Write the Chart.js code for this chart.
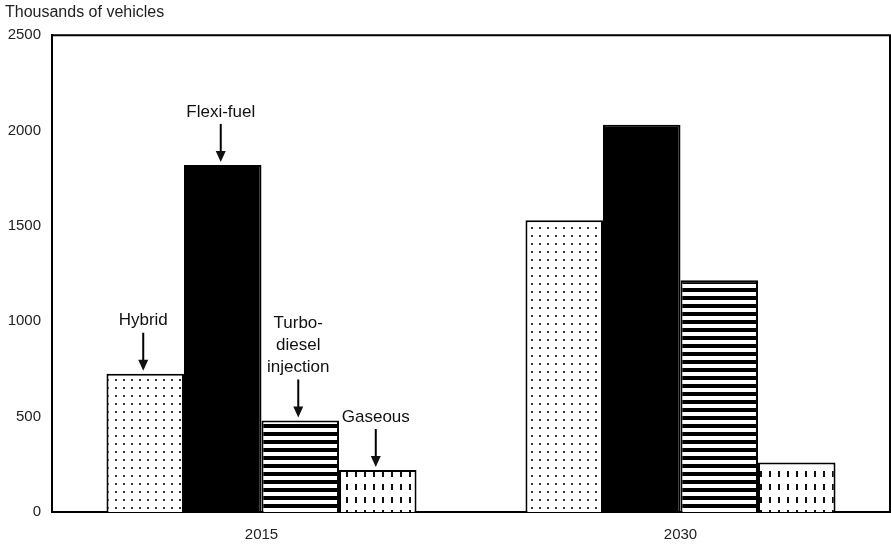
<!DOCTYPE html>
<html>
<head>
<meta charset="utf-8">
<script src="https://cdn.jsdelivr.net/npm/chart.js@4.4.1/dist/chart.umd.min.js"></script>
<style>
  html, body { margin: 0; padding: 0; background: #fff; }
  #wrap { width: 891px; height: 544px; position: relative; }
</style>
</head>
<body>
<div id="wrap"><canvas id="chart"></canvas></div>
<script>
const years = ['2015', '2030'];
const seriesNames = ['Hybrid', 'Flexi-fuel', 'Turbo-diesel injection', 'Gaseous'];
const hybrid = [725, 1530];
const flexiFuel = [1820, 2030];
const turboDiesel = [480, 1215];
const gaseous = [220, 260];
const yTicks = [0, 500, 1000, 1500, 2000, 2500];
// callout text drawn over the 2015 bars, one entry per series
const calloutLines = [['Hybrid'], ['Flexi-fuel'], ['Turbo-', 'diesel', 'injection'], ['Gaseous']];

const FONT = '"Liberation Sans", Arial, sans-serif';

function makePattern(w, h, draw) {
    const c = document.createElement('canvas');
    c.width = w; c.height = h;
    const g = c.getContext('2d');
    g.fillStyle = '#fff';
    g.fillRect(0, 0, w, h);
    draw(g);
    return c.getContext('2d').createPattern(c, 'repeat');
}

const ctx = document.getElementById('chart').getContext('2d');

const dots = makePattern(8, 8, g => {
    g.fillStyle = '#333';
    g.fillRect(3, 3, 2, 2);
});
const stripes = makePattern(8, 8, g => {
    g.fillStyle = '#000';
    g.fillRect(0, 0, 8, 4);
});
const dashes = makePattern(9, 13, g => {
    g.fillStyle = '#111';
    g.fillRect(4, 3, 2, 6);
});

const fills = [dots, '#000', stripes, dashes];
const values = [hybrid, flexiFuel, turboDiesel, gaseous];

const calloutPlugin = {
    id: 'callouts',
    afterDatasetsDraw(chart) {
        const c = chart.ctx;
        c.save();
        c.fillStyle = '#111';
        c.strokeStyle = '#000';
        c.font = '17px ' + FONT;
        c.textAlign = 'center';
        c.textBaseline = 'middle';
        calloutLines.forEach((lines, i) => {
            const bar = chart.getDatasetMeta(i).data[0];
            const x = bar.x - 2;
            const tip = bar.y - 3;
            const start = tip - 38;
            c.lineWidth = 2;
            c.beginPath();
            c.moveTo(x, start);
            c.lineTo(x, tip - 8);
            c.stroke();
            c.beginPath();
            c.moveTo(x - 5, tip - 11);
            c.lineTo(x + 5, tip - 11);
            c.lineTo(x, tip);
            c.closePath();
            c.fill();
            lines.forEach((t, k) => {
                c.fillText(t, x, start - 12 - (lines.length - 1 - k) * 22);
            });
        });
        // frame on top and right
        const a = chart.chartArea;
        c.lineWidth = 2;
        c.beginPath();
        c.moveTo(a.left, a.top);
        c.lineTo(a.right, a.top);
        c.lineTo(a.right, a.bottom);
        c.stroke();
        c.restore();
    }
};

new Chart(ctx, {
    type: 'bar',
    data: {
        labels: years,
        datasets: seriesNames.map((name, i) => ({
            label: name,
            data: values[i],
            backgroundColor: fills[i],
            borderColor: '#000',
            borderWidth: 2,
            borderSkipped: 'bottom'
        }))
    },
    options: {
        responsive: true,
        maintainAspectRatio: false,
        animation: false,
        layout: { padding: { top: 0, right: 1, left: 5, bottom: 0 } },
        plugins: {
            legend: { display: false },
            tooltip: { enabled: false },
            title: {
                display: true,
                text: 'Thousands of vehicles',
                align: 'start',
                color: '#222',
                font: { family: FONT, size: 16, weight: 'normal' },
                padding: { top: 3, bottom: 13 }
            }
        },
        datasets: { bar: { categoryPercentage: 0.74, barPercentage: 1.0 } },
        scales: {
            x: {
                grid: { display: false, drawTicks: false },
                border: { color: '#000', width: 2 },
                ticks: {
                    color: '#222',
                    padding: 14,
                    font: { family: FONT, size: 15 }
                },
                afterFit(scale) { scale.height = 32; }
            },
            y: {
                min: 0,
                max: 2500,
                afterBuildTicks(scale) { scale.ticks = yTicks.map(v => ({ value: v })); },
                grid: { display: false, drawTicks: false },
                border: { color: '#000', width: 2 },
                ticks: {
                    color: '#222',
                    padding: 11,
                    font: { family: FONT, size: 15 },
                    callback: v => String(v)
                },
                afterFit(scale) { scale.width = 47; }
            }
        }
    },
    plugins: [calloutPlugin]
});
</script>
</body>
</html>
